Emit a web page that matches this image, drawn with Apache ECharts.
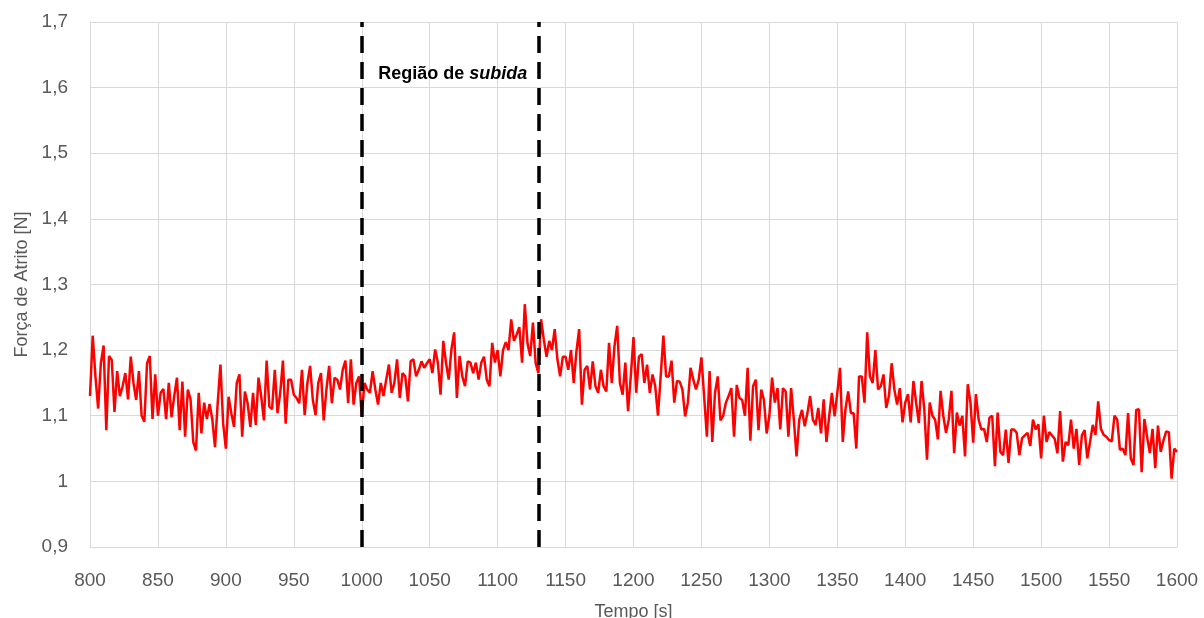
<!DOCTYPE html>
<html lang="pt">
<head>
<meta charset="utf-8">
<title>Força de Atrito x Tempo</title>
<script src="https://cdn.jsdelivr.net/npm/echarts@6/dist/echarts.min.js"></script>
<style>
  html, body { margin: 0; padding: 0; background: #ffffff; }
  #chart { width: 1204px; height: 618px; }
</style>
</head>
<body>
<div id="chart"></div>
<script>
// Sampling of the friction-force record: one reading every 2 s from 800 s
const T0 = 800;
const DT = 2;

// Friction force [N], one array per 100 s window
const force800 = [
  1.13, 1.222, 1.16, 1.111, 1.18, 1.207, 1.078, 1.191, 1.185, 1.106,
  1.168, 1.13, 1.145, 1.165, 1.125, 1.19, 1.15, 1.124, 1.168, 1.10,
  1.091, 1.18, 1.191, 1.095, 1.163, 1.10, 1.135, 1.141, 1.095, 1.15,
  1.098, 1.13, 1.158, 1.078, 1.152, 1.068, 1.14, 1.125, 1.06, 1.047,
  1.135, 1.073, 1.12, 1.095, 1.118, 1.095, 1.052, 1.12, 1.178, 1.088
];
const force900 = [
  1.05, 1.129, 1.104, 1.083, 1.15, 1.163, 1.068, 1.137, 1.119, 1.083,
  1.135, 1.086, 1.158, 1.13, 1.093, 1.184, 1.114, 1.11, 1.17, 1.104,
  1.135, 1.184, 1.088, 1.155, 1.155, 1.132, 1.127, 1.119, 1.17, 1.101,
  1.15, 1.176, 1.124, 1.101, 1.15, 1.165, 1.093, 1.14, 1.176, 1.119,
  1.158, 1.155, 1.14, 1.17, 1.184, 1.119, 1.186, 1.117, 1.15, 1.16
];
const force1000 = [
  1.10, 1.15, 1.14, 1.135, 1.168, 1.14, 1.117, 1.15, 1.13, 1.155,
  1.178, 1.135, 1.15, 1.186, 1.127, 1.165, 1.16, 1.122, 1.183, 1.186,
  1.16, 1.17, 1.183, 1.173, 1.18, 1.186, 1.165, 1.201, 1.181, 1.132,
  1.214, 1.181, 1.155, 1.201, 1.227, 1.127, 1.191, 1.16, 1.145, 1.183,
  1.181, 1.165, 1.181, 1.155, 1.181, 1.19, 1.155, 1.145, 1.211, 1.181
];
const force1100 = [
  1.20, 1.16, 1.20, 1.212, 1.20, 1.247, 1.214, 1.224, 1.235, 1.181,
  1.27, 1.21, 1.191, 1.242, 1.18, 1.165, 1.247, 1.216, 1.19, 1.214,
  1.20, 1.232, 1.186, 1.16, 1.19, 1.19, 1.17, 1.20, 1.15, 1.198,
  1.232, 1.117, 1.17, 1.176, 1.14, 1.183, 1.145, 1.135, 1.17, 1.145,
  1.137, 1.211, 1.15, 1.206, 1.237, 1.15, 1.132, 1.181, 1.107, 1.16
];
const force1200 = [
  1.22, 1.135, 1.19, 1.194, 1.15, 1.178, 1.135, 1.163, 1.145, 1.10,
  1.16, 1.222, 1.16, 1.16, 1.184, 1.12, 1.153, 1.152, 1.14, 1.099,
  1.12, 1.173, 1.155, 1.14, 1.155, 1.189, 1.129, 1.068, 1.168, 1.06,
  1.135, 1.16, 1.093, 1.10, 1.12, 1.13, 1.142, 1.068, 1.147, 1.127,
  1.124, 1.10, 1.173, 1.062, 1.145, 1.155, 1.078, 1.14, 1.124, 1.073
];
const force1300 = [
  1.10, 1.158, 1.12, 1.142, 1.079, 1.142, 1.137, 1.068, 1.142, 1.094,
  1.038, 1.094, 1.109, 1.084, 1.104, 1.13, 1.094, 1.086, 1.112, 1.073,
  1.125, 1.06, 1.099, 1.135, 1.099, 1.135, 1.173, 1.06, 1.11, 1.137,
  1.104, 1.104, 1.05, 1.16, 1.16, 1.12, 1.227, 1.16, 1.15, 1.20,
  1.14, 1.145, 1.163, 1.112, 1.13, 1.18, 1.14, 1.117, 1.142, 1.09
];
const force1400 = [
  1.12, 1.133, 1.09, 1.153, 1.12, 1.089, 1.153, 1.11, 1.033, 1.12,
  1.10, 1.094, 1.064, 1.138, 1.10, 1.074, 1.094, 1.138, 1.043, 1.105,
  1.085, 1.10, 1.038, 1.148, 1.12, 1.059, 1.133, 1.094, 1.079, 1.08,
  1.06, 1.097, 1.10, 1.023, 1.105, 1.045, 1.04, 1.079, 1.028, 1.079,
  1.079, 1.074, 1.04, 1.066, 1.07, 1.074, 1.054, 1.094, 1.079, 1.087
];
const force1500 = [
  1.035, 1.10, 1.06, 1.075, 1.07, 1.065, 1.043, 1.107, 1.03, 1.06,
  1.055, 1.094, 1.05, 1.08, 1.025, 1.07, 1.078, 1.035, 1.06, 1.086,
  1.071, 1.122, 1.08, 1.071, 1.068, 1.063, 1.061, 1.10, 1.094, 1.048,
  1.05, 1.04, 1.104, 1.035, 1.025, 1.109, 1.11, 1.014, 1.095, 1.068,
  1.043, 1.08, 1.02, 1.085, 1.045, 1.062, 1.076, 1.075, 1.004, 1.05,
  1.045
];

// Boundaries of the rising region [s] and its caption position
const riseStart = 1000;
const riseEnd = 1130;
const captionAt = [1067, 1.62];

const force = [].concat(force800, force900, force1000, force1100,
                        force1200, force1300, force1400, force1500);
const points = force.map((v, i) => [T0 + i * DT, v]);

const axisText = '#595959';
const gridColor = '#d9d9d9';
const font = 'Liberation Sans, Arial, sans-serif';

const chart = echarts.init(document.getElementById('chart'), null, { renderer: 'canvas' });

chart.setOption({
  animation: false,
  backgroundColor: '#ffffff',
  grid: {
    left: 90, right: 27, top: 22, bottom: 71,
    containLabel: false,
    outerBoundsMode: 'none'
  },
  xAxis: {
    type: 'value',
    min: 800,
    max: 1600,
    interval: 50,
    name: 'Tempo [s]',
    nameLocation: 'middle',
    nameGap: 56,
    nameTextStyle: { color: axisText, fontSize: 18, fontFamily: font },
    axisLine: { show: true, lineStyle: { color: gridColor, width: 1 } },
    axisTick: { show: false },
    axisLabel: {
      color: axisText,
      fontSize: 19,
      fontFamily: font,
      margin: 24,
      formatter: v => String(Math.round(v))
    },
    splitLine: { show: true, lineStyle: { color: gridColor, width: 1 } }
  },
  yAxis: {
    type: 'value',
    min: 0.9,
    max: 1.7,
    interval: 0.1,
    name: 'Força de Atrito [N]',
    nameLocation: 'middle',
    nameGap: 56,
    nameTextStyle: { color: axisText, fontSize: 18, fontFamily: font },
    axisLine: { show: true, lineStyle: { color: gridColor, width: 1 } },
    axisTick: { show: false },
    axisLabel: {
      color: axisText,
      fontSize: 19,
      fontFamily: font,
      margin: 22,
      formatter: v => String(Math.round(v * 10) / 10).replace('.', ',')
    },
    splitLine: { show: true, lineStyle: { color: gridColor, width: 1 } }
  },
  series: [{
    type: 'line',
    data: points,
    showSymbol: false,
    smooth: false,
    lineStyle: { color: '#ff0000', width: 2.5 },
    itemStyle: { color: '#ff0000' },
    markLine: {
      silent: true,
      symbol: ['none', 'none'],
      label: { show: false },
      lineStyle: { color: '#000000', width: 3.5, type: [17, 9] },
      data: [{ xAxis: riseStart }, { xAxis: riseEnd }]
    },
    markPoint: {
      silent: true,
      symbol: 'rect',
      symbolSize: 1,
      itemStyle: { color: 'rgba(0,0,0,0)' },
      label: {
        show: true,
        position: 'inside',
        formatter: '{r|Região de }{i|subida}',
        rich: {
          r: { fontFamily: font, fontSize: 18, fontWeight: 'bold', color: '#000000' },
          i: { fontFamily: font, fontSize: 18, fontWeight: 'bold', fontStyle: 'italic', color: '#000000' }
        }
      },
      data: [{ coord: captionAt }]
    }
  }]
});
</script>
</body>
</html>
